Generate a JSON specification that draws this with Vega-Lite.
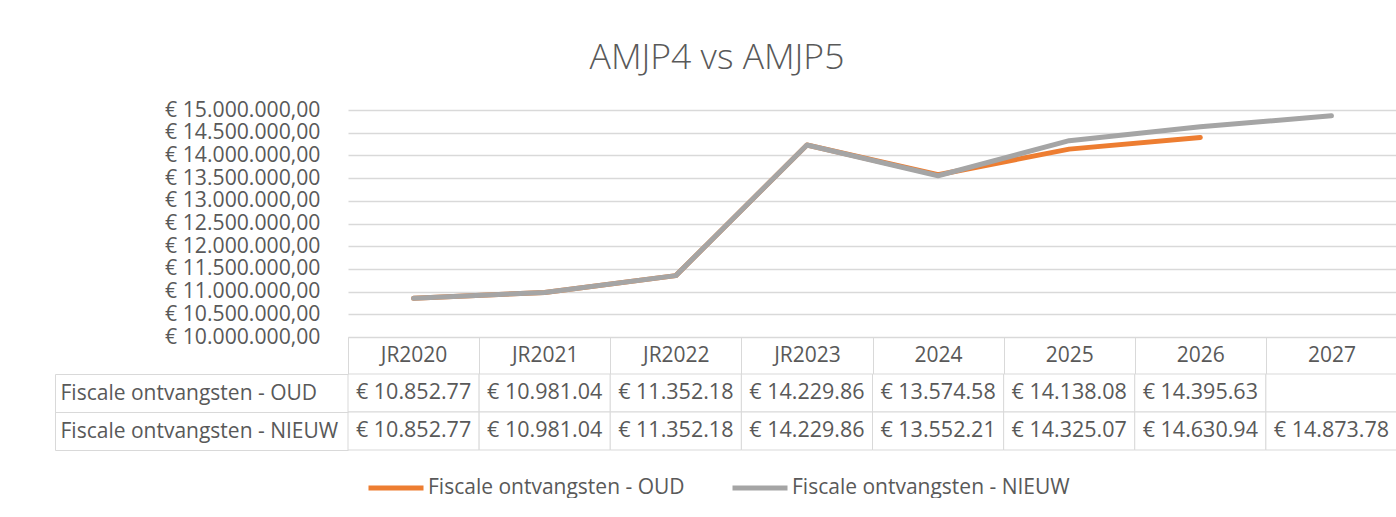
{
  "$schema": "https://vega.github.io/schema/vega-lite/v6.json",
  "autosize": {"type": "pad"},
  "padding": {"left": 54, "top": 40, "right": 0, "bottom": 0},
  "background": "#ffffff",
  "title": {
    "text": "AMJP4 vs AMJP5",
    "anchor": "middle",
    "fontSize": 35.5,
    "font": "Open Sans",
    "fontWeight": 300,
    "color": "#595959",
    "offset": 23,
    "dx": -9
  },
  "config": {
    "locale": {"number": {"decimal": ",", "thousands": ".", "grouping": [3], "currency": ["€ ", ""]}},
    "view": {"stroke": null},
    "font": "Open Sans"
  },
  "data": {
    "values": [
      {"jaar": "JR2020", "reeks": "Fiscale ontvangsten - OUD", "waarde": 10852770, "tekst": "€ 10.852.77"},
      {"jaar": "JR2021", "reeks": "Fiscale ontvangsten - OUD", "waarde": 10981040, "tekst": "€ 10.981.04"},
      {"jaar": "JR2022", "reeks": "Fiscale ontvangsten - OUD", "waarde": 11352180, "tekst": "€ 11.352.18"},
      {"jaar": "JR2023", "reeks": "Fiscale ontvangsten - OUD", "waarde": 14229860, "tekst": "€ 14.229.86"},
      {"jaar": "2024", "reeks": "Fiscale ontvangsten - OUD", "waarde": 13574580, "tekst": "€ 13.574.58"},
      {"jaar": "2025", "reeks": "Fiscale ontvangsten - OUD", "waarde": 14138080, "tekst": "€ 14.138.08"},
      {"jaar": "2026", "reeks": "Fiscale ontvangsten - OUD", "waarde": 14395630, "tekst": "€ 14.395.63"},
      {"jaar": "2027", "reeks": "Fiscale ontvangsten - OUD", "waarde": null, "tekst": ""},
      {"jaar": "JR2020", "reeks": "Fiscale ontvangsten - NIEUW", "waarde": 10852770, "tekst": "€ 10.852.77"},
      {"jaar": "JR2021", "reeks": "Fiscale ontvangsten - NIEUW", "waarde": 10981040, "tekst": "€ 10.981.04"},
      {"jaar": "JR2022", "reeks": "Fiscale ontvangsten - NIEUW", "waarde": 11352180, "tekst": "€ 11.352.18"},
      {"jaar": "JR2023", "reeks": "Fiscale ontvangsten - NIEUW", "waarde": 14229860, "tekst": "€ 14.229.86"},
      {"jaar": "2024", "reeks": "Fiscale ontvangsten - NIEUW", "waarde": 13552210, "tekst": "€ 13.552.21"},
      {"jaar": "2025", "reeks": "Fiscale ontvangsten - NIEUW", "waarde": 14325070, "tekst": "€ 14.325.07"},
      {"jaar": "2026", "reeks": "Fiscale ontvangsten - NIEUW", "waarde": 14630940, "tekst": "€ 14.630.94"},
      {"jaar": "2027", "reeks": "Fiscale ontvangsten - NIEUW", "waarde": 14873780, "tekst": "€ 14.873.78"}
    ]
  },
  "bounds": "flush",
  "spacing": 37,
  "vconcat": [
    {
      "width": 1049,
      "height": 227,
      "mark": {"type": "line", "strokeWidth": 5, "strokeCap": "round", "strokeJoin": "round"},
      "encoding": {
        "x": {
          "field": "jaar",
          "type": "nominal",
          "scale": {
            "type": "band",
            "domain": ["JR2020", "JR2021", "JR2022", "JR2023", "2024", "2025", "2026", "2027"],
            "paddingInner": 0,
            "paddingOuter": 0
          },
          "axis": {
            "orient": "bottom",
            "title": null,
            "domain": true,
            "domainColor": "#d9d9d9",
            "domainWidth": 1,
            "ticks": true,
            "tickBand": "extent",
            "tickSize": 37,
            "tickColor": "#d9d9d9",
            "tickWidth": 1,
            "grid": false,
            "labelAngle": 0,
            "labelBaseline": "middle",
            "labelAlign": "center",
            "labelPadding": -19,
            "labelFontSize": 21,
            "labelColor": "#595959",
            "labelOverlap": false,
            "labelFlush": false,
            "labelBound": false
          }
        },
        "y": {
          "field": "waarde",
          "type": "quantitative",
          "scale": {"domain": [10000000, 15000000], "nice": false, "zero": false},
          "axis": {
            "title": null,
            "domain": false,
            "ticks": false,
            "grid": true,
            "gridColor": "#d9d9d9",
            "gridWidth": 1.3,
            "values": [10000000, 10500000, 11000000, 11500000, 12000000, 12500000, 13000000, 13500000, 14000000, 14500000, 15000000],
            "format": "$,.2f",
            "labelFontSize": 21.2,
            "labelColor": "#595959",
            "labelPadding": 28,
            "labelOverlap": false,
            "labelFlush": false,
            "labelBound": false
          }
        },
        "color": {
          "field": "reeks",
          "type": "nominal",
          "scale": {
            "domain": ["Fiscale ontvangsten - OUD", "Fiscale ontvangsten - NIEUW"],
            "range": ["#ED7D31", "#A5A5A5"]
          },
          "legend": {
            "orient": "none",
            "legendX": 18,
            "legendY": 348,
            "direction": "horizontal",
            "title": null,
            "symbolType": "stroke",
            "symbolSize": 3025,
            "symbolStrokeWidth": 5,
            "labelFontSize": 21,
            "labelColor": "#595959",
            "labelOffset": 2,
            "columnPadding": 37,
            "padding": 0,
            "labelLimit": 400
          }
        }
      }
    },
    {
      "width": 1049,
      "height": 76,
      "encoding": {
        "x": {
          "field": "jaar",
          "type": "nominal",
          "scale": {
            "type": "band",
            "domain": ["JR2020", "JR2021", "JR2022", "JR2023", "2024", "2025", "2026", "2027"],
            "paddingInner": 0,
            "paddingOuter": 0
          },
          "axis": null
        },
        "y": {
          "field": "reeks",
          "type": "nominal",
          "scale": {
            "type": "band",
            "domain": ["Fiscale ontvangsten - OUD", "Fiscale ontvangsten - NIEUW"],
            "paddingInner": 0,
            "paddingOuter": 0
          },
          "axis": {
            "title": null,
            "offset": 293,
            "domain": true,
            "domainColor": "#d9d9d9",
            "domainWidth": 1,
            "ticks": true,
            "tickBand": "extent",
            "tickSize": -293,
            "tickColor": "#d9d9d9",
            "tickWidth": 1,
            "grid": false,
            "labelAlign": "left",
            "labelBaseline": "middle",
            "labelPadding": 288,
            "labelFontSize": 21,
            "labelColor": "#595959",
            "labelLimit": 400,
            "labelOverlap": false,
            "labelFlush": false,
            "labelBound": false
          }
        }
      },
      "layer": [
        {"mark": {"type": "rect", "fill": "#ffffff", "stroke": "#d9d9d9", "strokeWidth": 1}},
        {
          "mark": {"type": "text", "fontSize": 21.5, "color": "#595959", "align": "center", "baseline": "middle"},
          "encoding": {"text": {"field": "tekst", "type": "nominal"}}
        }
      ]
    }
  ]
}
